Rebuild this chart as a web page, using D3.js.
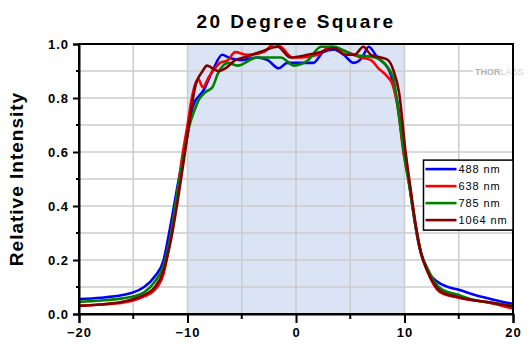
<!DOCTYPE html>
<html lang="en">
<head>
  <meta charset="UTF-8" />
  <title>20 Degree Square</title>
  <script src="https://d3js.org/d3.v7.min.js"></script>
  <style>
  body { margin: 0; background: #fff; }
  svg { display: block; font-family: "Liberation Sans", Arial, sans-serif; }
  .tick text { font-weight: bold; font-size: 13px; letter-spacing: 1px; fill: #000; }
  </style>
</head>
<body>
<script>
// beam profile
const x488 = [-20,-18,-16,-15,-14,-13,-12.2,-11.6,-10.8,-10.2,-9.5,-8.5,-7.7,-6.8,-6.2,-5,-3.6,-2.6,-1.6,-0.8,0,1.6,2.5,3.5,4.4,5.3,6.1,6.7,7.5,8.5,9,9.4,9.8,10.3,10.8,11.3,12,13,14,15,16.5,18,20];
const v488 = [.055,.06,.07,.08,.1,.14,.2,.32,.5,.62,.77,.83,.9,.96,.95,.94,.95,.94,.91,.93,.93,.93,.97,.98,.96,.93,.95,.99,.95,.91,.85,.77,.65,.52,.38,.26,.17,.12,.1,.09,.07,.055,.037];

const x638 = [-20,-18,-16,-15,-14,-13,-12.2,-11.5,-11,-10.5,-10,-9.6,-9.3,-9,-8.6,-8,-7,-6.3,-5.6,-4.5,-3,-2,-1.4,-0.3,0.5,2,3.2,4.1,6,6.9,7.6,8.4,8.9,9.4,9.9,10.5,11,11.5,12.1,13.3,15,18,20];
const v638 = [.03,.035,.042,.05,.065,.09,.15,.3,.43,.58,.7,.8,.85,.87,.84,.88,.93,.94,.97,.96,.97,1,.99,.95,.95,.96,.99,.98,.95,.94,.91,.88,.85,.76,.6,.47,.33,.23,.16,.08,.06,.04,.02];

const x785 = [-20,-18,-16,-15,-14,-13,-12.2,-11.5,-10.9,-10.3,-9.8,-9.3,-9,-8.4,-7.7,-7.2,-6.3,-5.4,-3.6,-1.4,-0.2,1.1,2.3,3.5,4.7,5.3,7.3,8.3,9,9.2,9.5,10,10.5,11,11.5,12.1,13.3,15,16.4,18,20];
const v785 = [.045,.05,.058,.065,.08,.12,.18,.3,.46,.6,.7,.76,.79,.82,.84,.89,.93,.92,.95,.95,.92,.94,.99,.99,.97,.96,.95,.92,.87,.82,.73,.58,.46,.33,.23,.17,.095,.07,.052,.042,.03];

const x1064 = [-20,-18,-16,-15,-14,-13,-12.3,-11.5,-10.9,-10.3,-9.8,-9.3,-8.6,-8.2,-7.7,-7.2,-6.5,-5.6,-4.8,-3.3,-1.7,-0.5,1.1,2.3,3.5,4.6,5.4,6.2,6.9,7.8,8.5,9,9.5,10.1,10.5,11,11.5,12.1,13.3,15,18,20];
const v1064 = [.03,.035,.045,.055,.07,.1,.15,.28,.42,.58,.72,.84,.9,.92,.91,.9,.91,.94,.95,.97,.99,.95,.96,.97,.985,.96,.96,.99,.96,.95,.94,.9,.82,.6,.48,.34,.23,.16,.085,.062,.042,.028];

const seriesNames = ["488 nm", "638 nm", "785 nm", "1064 nm"];
const seriesColors = ["#0000ff", "#ff0000", "#008000", "#800000"];
const xTicks = [-20, -10, 0, 10, 20];
const yTicks = [0, 0.2, 0.4, 0.6, 0.8, 1.0];

const series = [[x488, v488], [x638, v638], [x785, v785], [x1064, v1064]]
  .map((s, i) => ({
    name: seriesNames[i],
    color: seriesColors[i],
    pts: s[0].map((x, j) => [x, s[1][j]])
  }));

const W = 528, H = 347;
const m = {top: 44, right: 15, bottom: 33, left: 79};
const w = W - m.left - m.right, h = H - m.top - m.bottom;

const x = d3.scaleLinear().domain([-20, 20]).range([0, w]);
const y = d3.scaleLinear().domain([0, 1]).range([h, 0]);

const svg = d3.select("body").append("svg")
    .attr("width", W)
    .attr("height", H);

svg.append("text")
    .attr("x", m.left + w / 2)
    .attr("y", 28)
    .attr("text-anchor", "middle")
    .attr("font-weight", "bold")
    .attr("font-size", 19)
    .attr("letter-spacing", 2.4)
    .text("20 Degree Square");

svg.append("text")
    .attr("transform", `translate(23,${m.top + h / 2}) rotate(-90)`)
    .attr("text-anchor", "middle")
    .attr("font-weight", "bold")
    .attr("font-size", 19)
    .attr("letter-spacing", 1)
    .text("Relative Intensity");

const g = svg.append("g").attr("transform", `translate(${m.left},${m.top})`);

// shaded +-10 band
g.append("rect")
    .attr("x", x(-10)).attr("y", 0)
    .attr("width", x(10) - x(-10)).attr("height", h)
    .attr("fill", "#dbe4f5");

// grid
g.append("g")
    .attr("stroke", "#cccccc")
    .attr("stroke-width", 1.5)
  .selectAll("line")
  .data(d3.range(-15, 20, 5))
  .join("line")
    .attr("x1", d => x(d)).attr("x2", d => x(d))
    .attr("y1", 0).attr("y2", h);

g.append("g")
    .attr("stroke", "#cccccc")
    .attr("stroke-width", 1.5)
  .selectAll("line")
  .data(d3.range(1, 10).map(d => d / 10))
  .join("line")
    .attr("x1", 0).attr("x2", w)
    .attr("y1", d => y(d)).attr("y2", d => y(d));

// watermark
g.append("rect")
    .attr("x", x(16.3)).attr("y", y(0.9) - 6)
    .attr("width", 60).attr("height", 12)
    .attr("fill", "#fff");
g.append("text")
    .attr("x", x(16.5)).attr("y", y(0.9) + 3.5)
    .attr("font-size", 9)
    .attr("font-weight", "bold")
    .attr("fill", "#b0b0b0")
    .text("THOR")
  .append("tspan")
    .attr("font-weight", "normal")
    .attr("fill", "#d0d0d0")
    .text("LABS");

// curves
const line = d3.line()
    .curve(d3.curveMonotoneX)
    .x(d => x(d[0]))
    .y(d => y(d[1]));

g.append("g")
  .selectAll("path")
  .data(series)
  .join("path")
    .attr("fill", "none")
    .attr("stroke", d => d.color)
    .attr("stroke-width", 2.6)
    .attr("stroke-linejoin", "round")
    .attr("d", d => line(d.pts));

// frame
g.append("rect")
    .attr("width", w).attr("height", h)
    .attr("fill", "none")
    .attr("stroke", "#000")
    .attr("stroke-width", 2);

// axes
const xAxis = g.append("g")
    .attr("transform", `translate(0,${h})`)
    .call(d3.axisBottom(x).tickValues(xTicks).tickSize(9).tickPadding(5).tickFormat(d3.format("d")));
xAxis.append("g").selectAll("line")
  .data([-15, -5, 5, 15])
  .join("line")
    .attr("x1", d => x(d)).attr("x2", d => x(d))
    .attr("y1", 0).attr("y2", 5)
    .attr("stroke", "#000").attr("stroke-width", 2);

const yAxis = g.append("g")
    .call(d3.axisLeft(y).tickValues(yTicks).tickSize(6).tickPadding(4).tickFormat(d3.format(".1f")));
yAxis.append("g").selectAll("line")
  .data([0.1, 0.3, 0.5, 0.7, 0.9])
  .join("line")
    .attr("x1", -3).attr("x2", 0)
    .attr("y1", d => y(d)).attr("y2", d => y(d))
    .attr("stroke", "#000").attr("stroke-width", 2);

g.selectAll(".domain").attr("stroke-width", 2);
g.selectAll(".tick line").attr("stroke-width", 2);

// legend
const lg = g.append("g").attr("transform", `translate(${x(11.75)},${y(0.57)})`);
const lw = x(20) - x(11.75);
lg.append("rect")
    .attr("width", lw).attr("height", 70)
    .attr("fill", "#fff")
    .attr("stroke", "#000")
    .attr("stroke-width", 1.5);

const item = lg.selectAll("g.item")
  .data(series)
  .join("g")
    .attr("class", "item")
    .attr("transform", (d, i) => `translate(0,${9 + i * 17})`);
item.append("line")
    .attr("x1", 2).attr("x2", 33)
    .attr("stroke", d => d.color)
    .attr("stroke-width", 2.6);
item.append("text")
    .attr("x", 35).attr("y", 4)
    .attr("font-size", 11)
    .attr("letter-spacing", 0.9)
    .attr("fill", "#000")
    .text(d => d.name);
</script>
</body>
</html>
